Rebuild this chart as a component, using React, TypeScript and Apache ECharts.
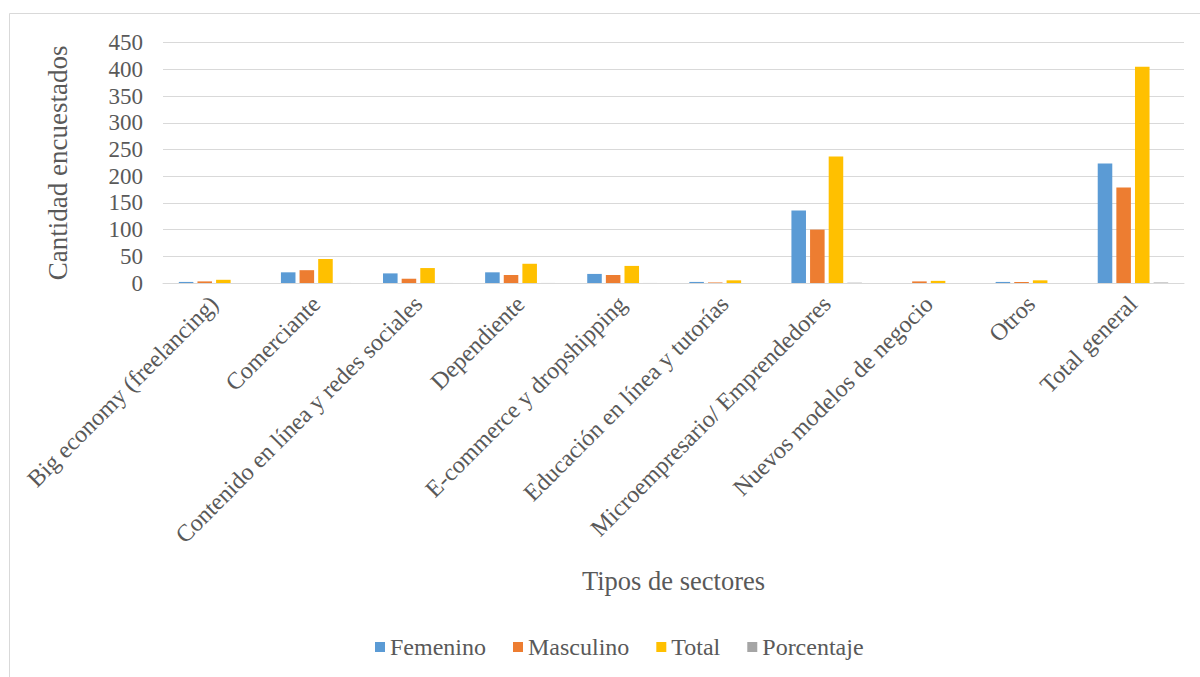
import React, { useEffect, useRef } from "react";
import * as echarts from "echarts";

const categories = [
  "Big economy (freelancing)",
  "Comerciante",
  "Contenido en línea y redes sociales",
  "Dependiente",
  "E-commerce y dropshipping",
  "Educación en línea y tutorías",
  "Microempresario/ Emprendedores",
  "Nuevos modelos de negocio",
  "Otros",
  "Total general",
];

const femenino = [2, 20, 18, 20, 17, 2, 136, 0, 2, 224];
const masculino = [3, 24, 8, 15, 15, 1, 100, 3, 2, 179];
const total = [6, 45, 28, 36, 32, 5, 237, 4, 5, 405];
const porcentaje = [0.01, 0.11, 0.07, 0.09, 0.08, 0.01, 0.59, 0.01, 0.01, 1];

const yTicks = { min: 0, max: 450, interval: 50 };

const FONT = "'Liberation Serif', 'Times New Roman', serif";
const TEXT = "#595959";
const GRID = "#d9d9d9";

export default function App() {
  const ref = useRef<HTMLDivElement>(null);

  useEffect(() => {
    if (!ref.current) return;
    const chart = echarts.init(ref.current, null, { renderer: "svg" });
    const bar = (name: string, data: number[], color: string) => ({
      name,
      type: "bar",
      data,
      itemStyle: { color },
      barGap: "28%",
      barCategoryGap: "31%",
    });
    chart.setOption({
      animation: false,
      backgroundColor: "#ffffff",
      textStyle: { fontFamily: FONT },
      graphic: [
        {
          type: "rect",
          shape: { x: 9.5, y: 13.5, width: 1200, height: 700 },
          style: { fill: "none", stroke: GRID, lineWidth: 1 },
          silent: true,
        },
      ],
      grid: { left: 163, right: 16, top: 42.7, bottom: 394 },
      legend: {
        bottom: 13,
        left: 370,
        itemWidth: 10,
        itemHeight: 10,
        itemGap: 27,
        icon: "rect",
        textStyle: { fontFamily: FONT, fontSize: 24, color: TEXT },
        data: ["Femenino", "Masculino", "Total", "Porcentaje"],
      },
      xAxis: {
        type: "category",
        data: categories,
        name: "Tipos de sectores",
        nameLocation: "middle",
        nameGap: 284,
        nameTextStyle: { fontFamily: FONT, fontSize: 26.5, color: TEXT },
        axisLine: { lineStyle: { color: GRID, width: 1 } },
        axisTick: { show: false },
        axisLabel: {
          interval: 0,
          rotate: 45,
          margin: 17,
          fontFamily: FONT,
          fontSize: 24,
          color: TEXT,
        },
      },
      yAxis: {
        type: "value",
        min: yTicks.min,
        max: yTicks.max,
        interval: yTicks.interval,
        name: "Cantidad encuestados",
        nameLocation: "middle",
        nameGap: 92,
        nameRotate: 90,
        nameTextStyle: { fontFamily: FONT, fontSize: 27, color: TEXT },
        axisLine: { show: false },
        axisTick: { show: false },
        axisLabel: { margin: 20, fontFamily: FONT, fontSize: 23, color: TEXT },
        splitLine: { lineStyle: { color: GRID, width: 1 } },
      },
      series: [
        bar("Femenino", femenino, "#5B9BD5"),
        bar("Masculino", masculino, "#ED7D31"),
        bar("Total", total, "#FFC000"),
        bar("Porcentaje", porcentaje, "#A5A5A5"),
      ],
    });
    return () => chart.dispose();
  }, []);

  return (
    <div
      ref={ref}
      style={{ position: "fixed", left: 0, top: 0, width: 1200, height: 677 }}
    />
  );
}
